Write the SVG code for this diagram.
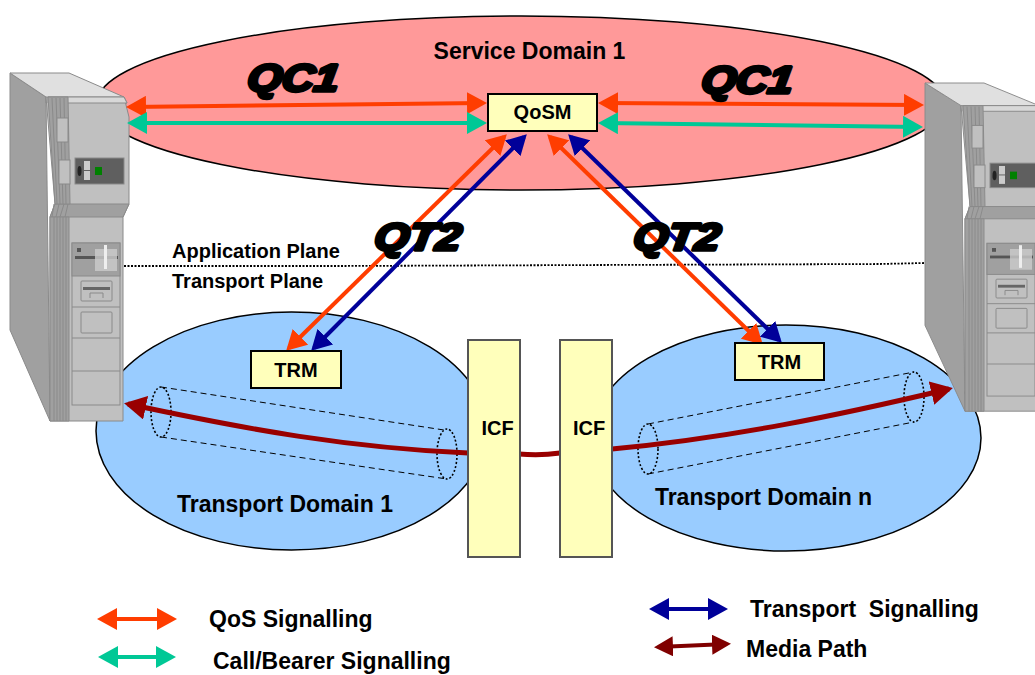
<svg xmlns="http://www.w3.org/2000/svg" width="1035" height="675" viewBox="0 0 1035 675">
<defs>
<style>
text{font-family:"Liberation Sans",Arial,sans-serif;font-weight:700;fill:#000}
.l{font-size:23px}.m{font-size:20px}.q{font-size:38px;font-style:italic;stroke:#000;stroke-width:3.500px;stroke-linejoin:round}
.box{fill:#ffffbb;stroke:#000;stroke-width:2}
.icf{fill:#ffffbb;stroke:#555;stroke-width:2}
.dom{stroke:#000;stroke-width:1.5}
.c{fill:none;stroke-width:4}
.or{stroke:#ff3d00}.gr{stroke:#00c896}.bl{stroke:#000099}
.mp{stroke:#990000;fill:none;stroke-width:5}
.dot{fill:none;stroke:#000;stroke-width:1.6;stroke-dasharray:2 2}
.dash{fill:none;stroke:#000;stroke-width:1;stroke-dasharray:6 4}
.sv{stroke:#8a8a8a;stroke-width:1}
.a{fill:#c0c0c0}.b{fill:#a0a0a0}.t{fill:#e0e0e0}.d{fill:#5f5f5f}.n{fill:none}
</style>
<marker id="ao" markerUnits="userSpaceOnUse" markerWidth="20" markerHeight="22" refX="16" refY="11" orient="auto-start-reverse" viewBox="0 0 20 22"><path d="M0 0L20 11L0 22z" fill="#ff3d00"/></marker>
<marker id="ag" markerUnits="userSpaceOnUse" markerWidth="20" markerHeight="22" refX="16" refY="11" orient="auto-start-reverse" viewBox="0 0 20 22"><path d="M0 0L20 11L0 22z" fill="#00c896"/></marker>
<marker id="ab" markerUnits="userSpaceOnUse" markerWidth="20" markerHeight="22" refX="16" refY="11" orient="auto-start-reverse" viewBox="0 0 20 22"><path d="M0 0L20 11L0 22z" fill="#000099"/></marker>
<marker id="am" markerUnits="userSpaceOnUse" markerWidth="22" markerHeight="24" refX="18" refY="12" orient="auto-start-reverse" viewBox="0 0 22 24"><path d="M0 0L22 12L0 24z" fill="#990000"/></marker>
<marker id="an" markerUnits="userSpaceOnUse" markerWidth="19" markerHeight="20" refX="15" refY="10" orient="auto-start-reverse" viewBox="0 0 19 20"><path d="M0 0L19 10L0 20z" fill="#800000"/></marker>
<g id="server">
<path class="sv b" d="M0 0L0 257L40 348L36 24z"/>
<path class="sv t" d="M0 0L59 0L114 24L117 30L36 30L36 24z"/>
<path class="sv a" d="M36 24L114 24L119 44L119 131L113 144L113 348L40 348L40 144L45 131z"/>
<path class="sv" fill="#d8d8d8" d="M38 24L114 24L117 30L38 30z"/>
<path class="sv b" d="M45 131L119 131L113 144L40 144z"/>
<path class="sv b" d="M38 24L58 24L60 131L45 131z"/>
<path class="sv b" d="M40 144L59 144L59 348L40 348z"/>
<path class="sv n" d="M44 144V348M47 144V348M50 144V348M53 144V348M56 144V348M42 25L47 131M46 25L50 131M50 25L53 131M54 25L56 131M44 131L42 144M49 131L46 144M54 131L50 144M58 131L55 144"/>
<rect class="sv a" x="47" y="45" width="11" height="24"/><rect class="sv a" x="49" y="87" width="11" height="24"/>
<rect class="sv d" x="65" y="85" width="49" height="26"/>
<ellipse cx="69.500" cy="98" rx="2" ry="5" fill="#222"/>
<rect x="74" y="88" width="6" height="9" fill="#ccc"/><rect x="74" y="98" width="6" height="9" fill="#ccc"/>
<rect x="85" y="94" width="7" height="8" fill="#008000"/>
<rect class="sv a" x="62" y="170" width="48" height="162"/>
<rect class="sv b" x="62" y="170" width="48" height="33"/>
<rect x="67" y="175" width="4" height="4" fill="#555"/><rect x="65" y="183" width="43" height="3" fill="#555"/>
<rect x="85" y="176" width="22" height="22" fill="#ccc" opacity=".8"/>
<rect x="94" y="172" width="3" height="24" fill="#eee"/>
<path class="sv n" d="M62 234H110M62 265H110M62 298H110"/>
<rect class="sv a" x="71" y="208" width="31" height="20" rx="1"/><rect x="73" y="214" width="27" height="3" fill="#666"/>
<path class="sv n" d="M80 225V220H93V225"/>
<rect class="sv a" x="71" y="239" width="31" height="21" rx="1"/>
</g>
</defs>

<g id="service-domain"><ellipse class="dom" cx="521" cy="103" rx="424" ry="87" fill="#ff9999"/><text class="l" x="529.500" y="59" text-anchor="middle">Service Domain 1</text></g>
<g id="transport-domain-1"><ellipse class="dom" cx="291.500" cy="431" rx="195.500" ry="119" fill="#99ccff"/><text class="l" x="285" y="512" text-anchor="middle">Transport Domain 1</text></g>
<g id="transport-domain-n"><ellipse class="dom" cx="786" cy="438" rx="195" ry="113" fill="#99ccff"/><text class="l" x="763.500" y="505" text-anchor="middle">Transport Domain n</text></g>

<g id="plane-line"><path d="M124 266H340L600 265L880 264L925 263" fill="none" stroke="#000" stroke-width="1.800" stroke-dasharray="2 1.500"/></g>
<g id="server-left"><use href="#server" transform="translate(10 73)"/></g>
<g id="server-right"><use href="#server" transform="translate(925 83) scale(1 .943)"/></g>
<g id="plane-labels"><text class="m" x="172" y="258">Application Plane</text><text class="m" x="172" y="288">Transport Plane</text></g>

<g id="tunnel-left"><path class="dash" d="M161 387L444 430M161 437L447 479"/><ellipse class="dot" cx="161" cy="412" rx="10" ry="25"/><ellipse class="dot" cx="447" cy="454" rx="10" ry="25"/></g>
<g id="tunnel-right"><path class="dash" d="M648 424L914 372M648 474L914 422"/><ellipse class="dot" cx="648" cy="449" rx="10" ry="25"/><ellipse class="dot" cx="914" cy="397" rx="10" ry="25"/></g>

<g id="connectors">
<path class="c or" d="M130 107L483 103" marker-start="url(#ao)" marker-end="url(#ao)"/>
<path class="c gr" d="M131 123L483 123" marker-start="url(#ag)" marker-end="url(#ag)"/>
<path class="c or" d="M602 103L920 105" marker-start="url(#ao)" marker-end="url(#ao)"/>
<path class="c gr" d="M602 123L919 127" marker-start="url(#ag)" marker-end="url(#ag)"/>
<path class="c or" d="M504 137L289 348" marker-start="url(#ao)" marker-end="url(#ao)"/>
<path class="c bl" d="M524 137L314 348" marker-start="url(#ab)" marker-end="url(#ab)"/>
<path class="c or" d="M550 137L760 342" marker-start="url(#ao)" marker-end="url(#ao)"/>
<path class="c bl" d="M571 137L779 340" marker-start="url(#ab)" marker-end="url(#ab)"/>
<path class="mp" d="M128 404C250 430 350 448 468 453" marker-start="url(#am)"/>
<path class="mp" d="M519 454Q540 456 560 453"/>
<path class="mp" d="M612 449C730 438 840 415 949 389" marker-end="url(#am)"/>
</g>

<g id="qc1-left"><text class="q" transform="translate(246 91) skewX(-8) scale(1.170 1)">QC1</text></g>
<g id="qc1-right"><text class="q" transform="translate(700 93) skewX(-8) scale(1.170 1)">QC1</text></g>
<g id="qt2-left"><text class="q" transform="translate(373 250) skewX(-8) scale(1.170 1)">QT2</text></g>
<g id="qt2-right"><text class="q" transform="translate(632 250) skewX(-8) scale(1.170 1)">QT2</text></g>

<g id="qosm"><rect class="box" x="488" y="94" width="109" height="37"/><text class="m" x="542.500" y="119" text-anchor="middle">QoSM</text></g>
<g id="trm-left"><rect class="box" x="251" y="351" width="90" height="37"/><text class="m" x="296" y="377" text-anchor="middle">TRM</text></g>
<g id="trm-right"><rect class="box" x="735" y="343" width="89" height="37"/><text class="m" x="779.500" y="369" text-anchor="middle">TRM</text></g>
<g id="icf-left"><rect class="icf" x="468" y="340" width="52" height="217"/><text class="m" x="497.500" y="435" text-anchor="middle">ICF</text></g>
<g id="icf-right"><rect class="icf" x="560" y="340" width="52" height="217"/><text class="m" x="589" y="435" text-anchor="middle">ICF</text></g>

<g id="legend">
<path class="c or" d="M101 619L173 619" marker-start="url(#ao)" marker-end="url(#ao)"/>
<path class="c gr" d="M102 657L172 657" marker-start="url(#ag)" marker-end="url(#ag)"/>
<path class="c bl" d="M653 609L724 609" marker-start="url(#ab)" marker-end="url(#ab)"/>
<path class="c" stroke="#800000" d="M658 647L727 644" marker-start="url(#an)" marker-end="url(#an)"/>
<text class="l" x="209" y="627">QoS Signalling</text>
<text class="l" x="213" y="669">Call/Bearer Signalling</text>
<text class="l" x="750" y="617" xml:space="preserve">Transport  Signalling</text>
<text class="l" x="746" y="657">Media Path</text>
</g>
</svg>
